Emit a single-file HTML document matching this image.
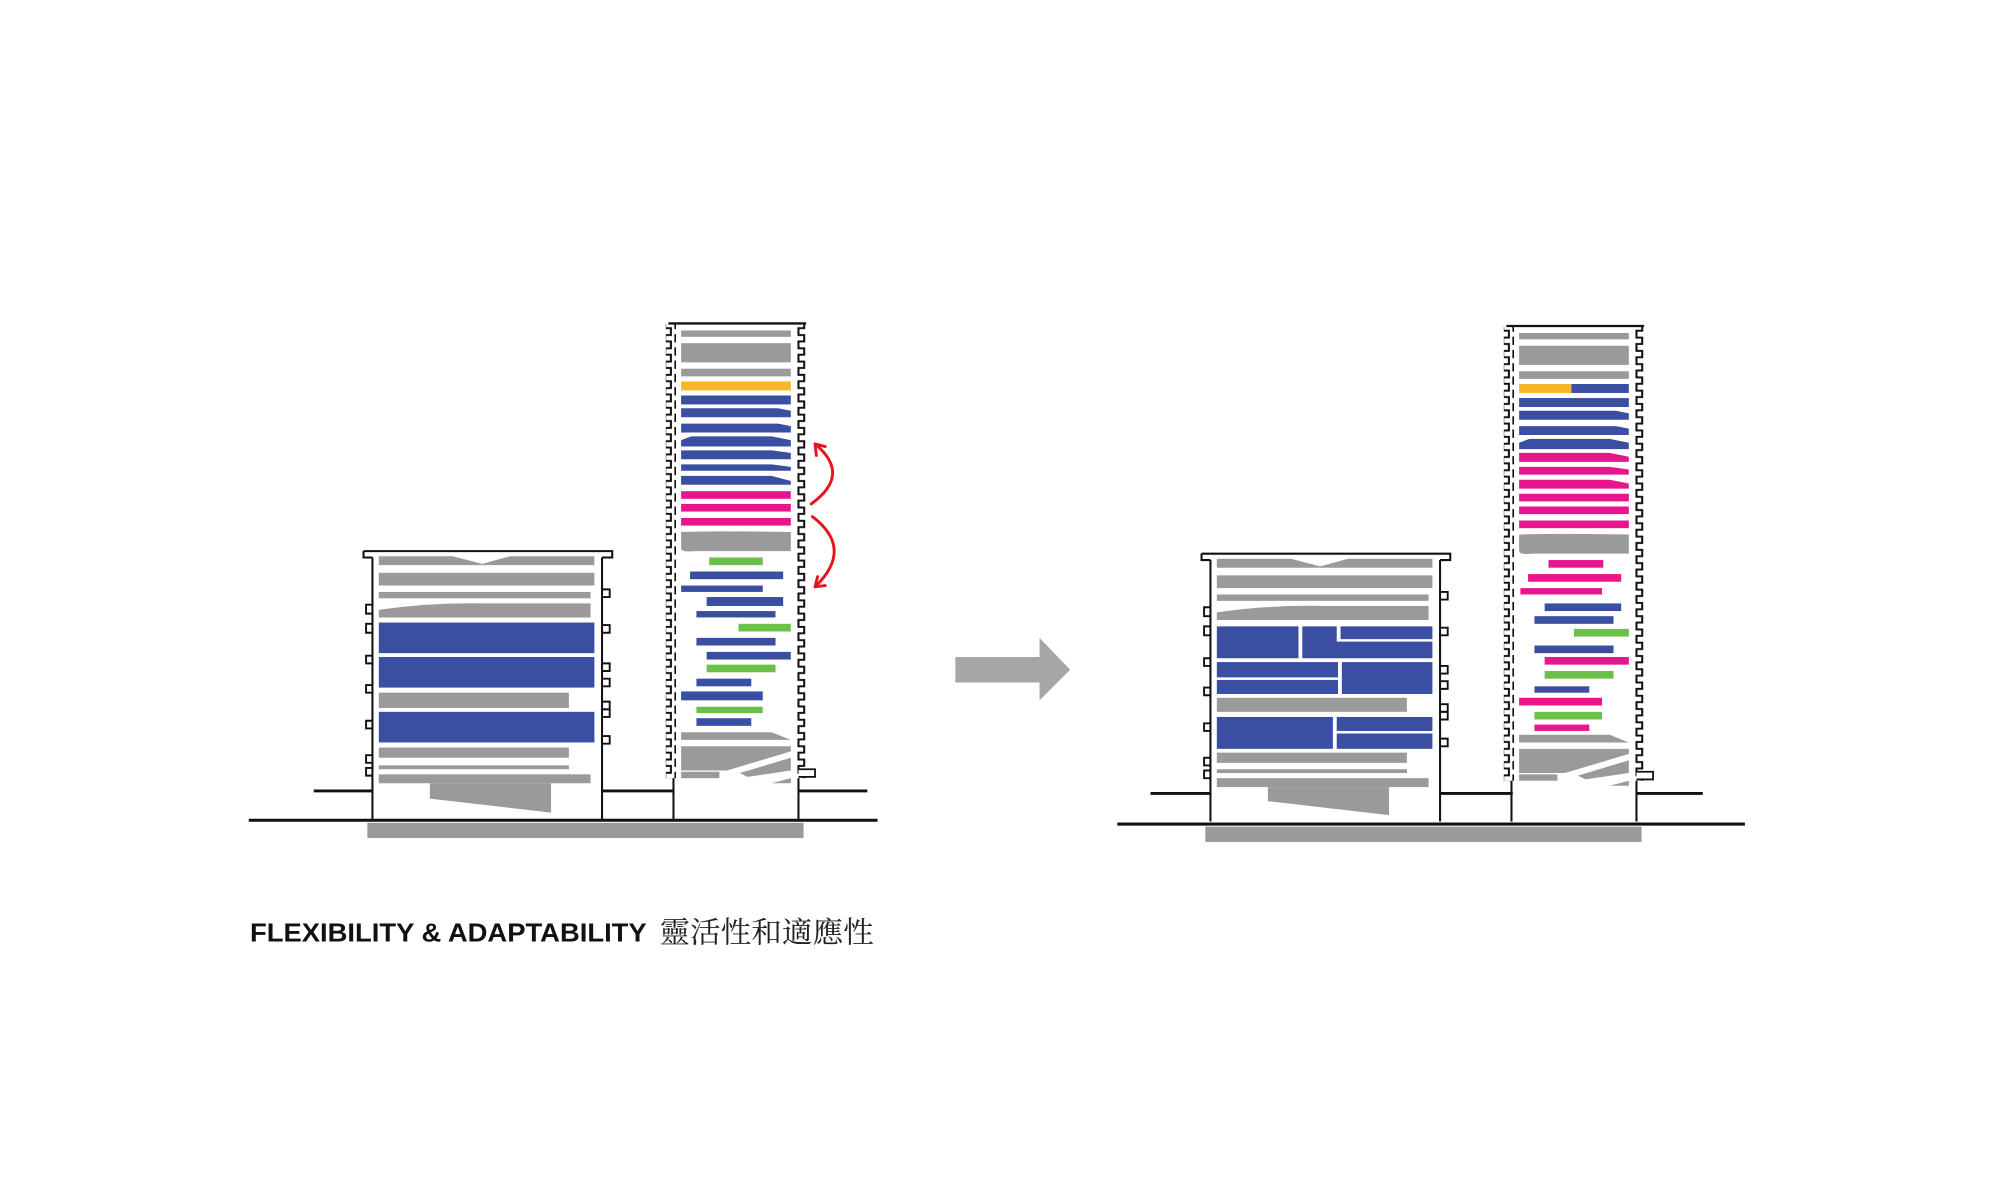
<!DOCTYPE html>
<html><head><meta charset="utf-8"><style>
html,body{margin:0;padding:0;background:#fff;}
svg{display:block;}
</style></head><body>
<svg width="2000" height="1203" viewBox="0 0 1568 943" xmlns="http://www.w3.org/2000/svg">
<defs>
<pattern id="nl" patternUnits="userSpaceOnUse" x="0" y="0" width="8" height="10.4">
<path d="M6,0 V2.6 H1.5 V7.6 H6 V10.4" fill="none" stroke="#111" stroke-width="1.6"/>
</pattern>
<pattern id="nr" patternUnits="userSpaceOnUse" x="0" y="0" width="8" height="10.4">
<path d="M2,0 V2.6 H6.5 V7.6 H2 V10.4" fill="none" stroke="#111" stroke-width="1.6"/>
</pattern>
</defs>
<rect width="1568" height="943" fill="#fff"/>

<!-- ============ LEFT GROUP ============ -->
<g id="L">
<rect x="288" y="645" width="342" height="12" fill="#9a9a9c"/>
<line x1="195" y1="643" x2="688" y2="643" stroke="#111" stroke-width="2.4"/>
<line x1="246" y1="620" x2="292" y2="620" stroke="#111" stroke-width="2.2"/>
<line x1="472" y1="620" x2="528" y2="620" stroke="#111" stroke-width="2.2"/>
<line x1="626" y1="620" x2="680" y2="620" stroke="#111" stroke-width="2.2"/>

<path d="M285,432 H480 V437 H472 M285,432 V437 H292" fill="none" stroke="#111" stroke-width="1.6"/>
<line x1="292" y1="437" x2="292" y2="643" stroke="#111" stroke-width="1.6"/>
<line x1="472" y1="437" x2="472" y2="643" stroke="#111" stroke-width="1.6"/>
<g fill="none" stroke="#111" stroke-width="1.5">
<path d="M292,474 H287 V481 H292"/><path d="M292,489 H287 V496 H292"/>
<path d="M292,514 H287 V520 H292"/><path d="M292,537 H287 V543 H292"/>
<path d="M292,565 H287 V571 H292"/><path d="M292,592 H287 V598 H292"/>
<path d="M292,602 H287 V608 H292"/>
<path d="M472,462 H478 V468 H472"/><path d="M472,490 H478 V496 H472"/>
<path d="M472,520 H478 V526 H472"/><path d="M472,532 H478 V538 H472"/>
<path d="M472,550 H478 V556 H472"/><path d="M472,556 H478 V562 H472"/>
<path d="M472,577 H478 V583 H472"/>
</g>
<g fill="#9a9a9c">
<path d="M297,436 H355 L378,442 L400,436 H466 V443 H297 Z"/>
<rect x="297" y="449" width="169" height="10"/>
<rect x="297" y="464" width="166" height="5"/>
<path d="M297,478 Q340,472 380,473 H463 V484 H297 Z"/>
<rect x="297" y="543" width="149" height="12"/>
<rect x="297" y="586" width="149" height="8"/>
<rect x="297" y="600" width="149" height="3"/>
<rect x="297" y="607" width="166" height="7"/>
<path d="M337,614 H432 V637 L337,626 Z"/>
</g>
<g fill="#3a4fa2">
<rect x="297" y="488" width="169" height="24"/>
<rect x="297" y="515" width="169" height="24"/>
<rect x="297" y="558" width="169" height="24"/>
</g>

<line x1="524" y1="253.5" x2="632" y2="253.5" stroke="#111" stroke-width="1.8"/>
<rect x="522" y="254" width="8" height="356" fill="url(#nl)"/>
<rect x="624" y="254" width="8" height="356" fill="url(#nr)"/>
<line x1="528" y1="610" x2="528" y2="643" stroke="#111" stroke-width="1.6"/>
<line x1="626" y1="610" x2="626" y2="643" stroke="#111" stroke-width="1.6"/>
<path d="M626,603 H639 V609 H626" fill="#fff" stroke="#111" stroke-width="1.4"/>
<g fill="#9a9a9c">
<rect x="534" y="259" width="86" height="5"/>
<rect x="534" y="269" width="86" height="15"/>
<rect x="534" y="289" width="86" height="6"/>
<path d="M534,417 Q560,416 620,417 V432 H545 Q534,433 534,430 Z"/>
<path d="M534,574 H605 L620,580 H534 Z"/>
<path d="M534,585 H620 V589 L570,604 H534 Z"/>
<path d="M580,606 L620,594 V604 L586,609 Z"/>
<rect x="534" y="605" width="30" height="5"/>
<path d="M605,614 L620,610 V614 Z"/>
</g>
<rect x="534" y="299" width="86" height="7" fill="#f7b52b"/>
<g fill="#3a4fa2">
<rect x="534" y="310" width="86" height="7"/>
<path d="M534,320 H610 L620,322 V327 H534 Z"/>
<path d="M534,332 H610 L620,334 V339 H534 Z"/>
<path d="M534,345 L542,342 H605 L620,345 V350 H534 Z"/>
<path d="M534,353 H605 L620,355 V360 H534 Z"/>
<path d="M534,364 H605 L620,366 V369 H534 Z"/>
<path d="M534,373 H605 L620,377 V380 H534 Z"/>
<rect x="541" y="448" width="73" height="6"/>
<rect x="534" y="459" width="64" height="5"/>
<rect x="554" y="468" width="60" height="7"/>
<rect x="546" y="479" width="62" height="5"/>
<rect x="546" y="500" width="62" height="6"/>
<rect x="554" y="511" width="66" height="6"/>
<rect x="546" y="532" width="43" height="6"/>
<rect x="534" y="542" width="64" height="7"/>
<rect x="546" y="563" width="43" height="6"/>
</g>
<g fill="#6cc04a">
<rect x="556" y="437" width="42" height="6"/>
<rect x="579" y="489" width="41" height="6"/>
<rect x="554" y="521" width="54" height="6"/>
<rect x="546" y="554" width="52" height="5"/>
</g>
<g fill="#e8168c">
<rect x="534" y="385" width="86" height="6"/>
<rect x="534" y="395" width="86" height="6"/>
<rect x="534" y="406" width="86" height="6"/>
</g>
<g fill="none" stroke="#e4151f" stroke-width="2.3" stroke-linecap="round">
<path d="M636,395 Q668,372 639,348"/>
<path d="M639,348 L640,357 M639,348 L647,350"/>
<path d="M637,405 Q670,430 639,460"/>
<path d="M639,460 L641,452 M639,460 L647,459"/>
</g>
</g>

<path d="M749,515 H815 V500 L839,525 L815,549 V535 H749 Z" fill="#a6a6a8"/>

<g>
<rect x="945" y="648" width="342" height="12" fill="#9a9a9c"/>
<line x1="876" y1="646" x2="1368" y2="646" stroke="#111" stroke-width="2.4"/>
<line x1="902" y1="622" x2="949" y2="622" stroke="#111" stroke-width="2.2"/>
<line x1="1129" y1="622" x2="1186" y2="622" stroke="#111" stroke-width="2.2"/>
<line x1="1283" y1="622" x2="1335" y2="622" stroke="#111" stroke-width="2.2"/>
</g>
<g transform="translate(657,2)">
<path d="M285,432 H480 V437 H472 M285,432 V437 H292" fill="none" stroke="#111" stroke-width="1.6"/>
<line x1="292" y1="437" x2="292" y2="642" stroke="#111" stroke-width="1.6"/>
<line x1="472" y1="437" x2="472" y2="642" stroke="#111" stroke-width="1.6"/>
<g fill="none" stroke="#111" stroke-width="1.5">
<path d="M292,474 H287 V481 H292"/><path d="M292,489 H287 V496 H292"/>
<path d="M292,514 H287 V520 H292"/><path d="M292,537 H287 V543 H292"/>
<path d="M292,565 H287 V571 H292"/><path d="M292,592 H287 V598 H292"/>
<path d="M292,602 H287 V608 H292"/>
<path d="M472,462 H478 V468 H472"/><path d="M472,490 H478 V496 H472"/>
<path d="M472,520 H478 V526 H472"/><path d="M472,532 H478 V538 H472"/>
<path d="M472,550 H478 V556 H472"/><path d="M472,556 H478 V562 H472"/>
<path d="M472,577 H478 V583 H472"/>
</g>
<g fill="#9a9a9c">
<path d="M297,436 H355 L378,442 L400,436 H466 V443 H297 Z"/>
<rect x="297" y="449" width="169" height="10"/>
<rect x="297" y="464" width="166" height="5"/>
<path d="M297,478 Q340,472 380,473 H463 V484 H297 Z"/>
<rect x="297" y="545" width="149" height="11"/>
<rect x="297" y="588" width="149" height="8"/>
<rect x="297" y="601" width="149" height="3"/>
<rect x="297" y="608" width="166" height="7"/>
<path d="M337,615 H432 V637 L337,626 Z"/>
</g>
<line x1="524" y1="253.5" x2="632" y2="253.5" stroke="#111" stroke-width="1.8"/>
<rect x="522" y="254" width="8" height="356" fill="url(#nl)"/>
<rect x="624" y="254" width="8" height="356" fill="url(#nr)"/>
<line x1="528" y1="610" x2="528" y2="642" stroke="#111" stroke-width="1.6"/>
<line x1="626" y1="610" x2="626" y2="642" stroke="#111" stroke-width="1.6"/>
<path d="M626,603 H639 V609 H626" fill="#fff" stroke="#111" stroke-width="1.4"/>
<g fill="#9a9a9c">
<rect x="534" y="259" width="86" height="5"/>
<rect x="534" y="269" width="86" height="15"/>
<rect x="534" y="289" width="86" height="6"/>
<path d="M534,417 Q560,416 620,417 V432 H545 Q534,433 534,430 Z"/>
<path d="M534,574 H605 L620,580 H534 Z"/>
<path d="M534,585 H620 V589 L570,604 H534 Z"/>
<path d="M580,606 L620,594 V604 L586,609 Z"/>
<rect x="534" y="605" width="30" height="5"/>
<path d="M605,614 L620,610 V614 Z"/>
</g>
<rect x="534" y="299" width="41" height="7" fill="#f7b52b"/>
<g fill="#3a4fa2">
<rect x="575" y="299" width="45" height="7"/>
<rect x="534" y="310" width="86" height="7"/>
<path d="M534,320 H610 L620,322 V327 H534 Z"/>
<path d="M534,332 H610 L620,334 V339 H534 Z"/>
<path d="M534,345 L542,342 H605 L620,345 V350 H534 Z"/>
<rect x="554" y="471" width="60" height="6"/>
<rect x="546" y="481" width="62" height="6"/>
<rect x="546" y="504" width="62" height="6"/>
<rect x="546" y="536" width="43" height="5"/>
</g>
<g fill="#e8168c">
<path d="M534,353 H605 L620,356 V360 H534 Z"/>
<path d="M534,364 H605 L620,366 V370 H534 Z"/>
<path d="M534,374 H605 L620,377 V381 H534 Z"/>
<rect x="534" y="385" width="86" height="6"/>
<rect x="534" y="395" width="86" height="6"/>
<rect x="534" y="406" width="86" height="6"/>
<rect x="557" y="437" width="43" height="6"/>
<rect x="541" y="448" width="73" height="6"/>
<rect x="535" y="459" width="64" height="5"/>
<rect x="554" y="513" width="66" height="6"/>
<rect x="534" y="545" width="65" height="6"/>
<rect x="546" y="566" width="43" height="5"/>
</g>
<g fill="#6cc04a">
<rect x="577" y="491" width="43" height="6"/>
<rect x="554" y="524" width="54" height="6"/>
<rect x="546" y="556" width="53" height="6"/>
</g>
</g>
<g fill="#3a4fa2">
<rect x="954" y="491" width="64" height="25"/>
<path d="M1021,491 H1048 V503 H1123 V516 H1021 Z"/>
<rect x="1051" y="491" width="72" height="10"/>
<rect x="954" y="519" width="95" height="12"/>
<rect x="954" y="533" width="95" height="11"/>
<rect x="1052" y="519" width="71" height="25"/>
<rect x="954" y="562" width="91" height="25"/>
<rect x="1048" y="562" width="75" height="11"/>
<rect x="1048" y="575" width="75" height="12"/>
</g>

<text x="196" y="738" font-family="Liberation Sans, sans-serif" font-weight="bold" font-size="20" fill="#111" textLength="311" lengthAdjust="spacingAndGlyphs">FLEXIBILITY &amp; ADAPTABILITY</text>
<text x="517" y="739" font-family="Noto Serif CJK SC, Noto Serif CJK TC, serif" font-size="23" fill="#222" textLength="168" lengthAdjust="spacingAndGlyphs">靈活性和適應性</text>
</svg>
</body></html>
